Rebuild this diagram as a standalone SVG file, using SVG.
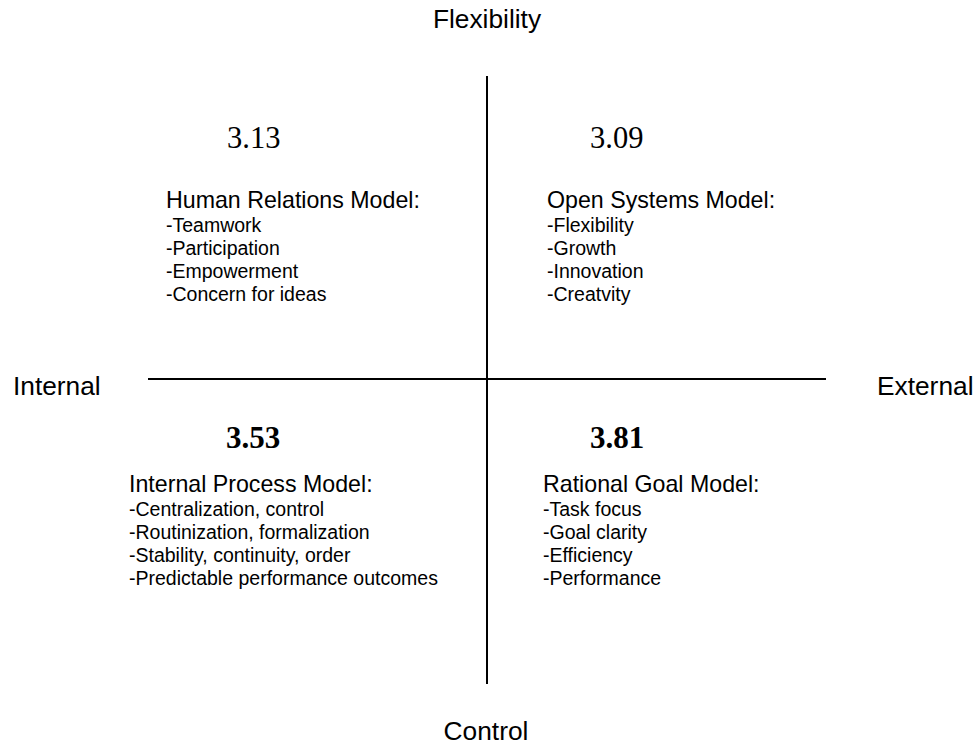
<svg xmlns="http://www.w3.org/2000/svg" width="977" height="746" viewBox="0 0 977 746">
<style>
.axis{font-family:"Liberation Sans",Arial,sans-serif;font-size:26.3px;fill:#000}
.num{font-family:"Liberation Serif","Times New Roman",serif;font-size:30.5px;fill:#000}
.numb{font-family:"Liberation Serif","Times New Roman",serif;font-size:31px;font-weight:bold;fill:#000}
.head{font-family:"Liberation Sans",Arial,sans-serif;font-size:23.2px;fill:#000}
.item{font-family:"Liberation Sans",Arial,sans-serif;font-size:19.5px;fill:#000}
.ax{stroke:#000;stroke-width:2;fill:none}
</style>
<rect width="977" height="746" fill="#fff"/>
<g id="connectors">
<line class="ax" x1="487" y1="76" x2="487" y2="684"/>
<line class="ax" x1="148" y1="379" x2="826" y2="379"/>
</g>
<g id="axis-labels">
<text class="axis" x="487" y="28" text-anchor="middle">Flexibility</text>
<text class="axis" x="486" y="740" text-anchor="middle">Control</text>
<text class="axis" x="13" y="395">Internal</text>
<text class="axis" x="877" y="395">External</text>
</g>
<g id="human-relations">
<text class="num" x="227" y="148">3.13</text>
<text class="head" x="166" y="208">Human Relations Model:</text>
<text class="item" x="166" y="231.5">-Teamwork</text>
<text class="item" x="166" y="254.5">-Participation</text>
<text class="item" x="166" y="277.5">-Empowerment</text>
<text class="item" x="166" y="300.5">-Concern for ideas</text>
</g>
<g id="open-systems">
<text class="num" x="590" y="148">3.09</text>
<text class="head" x="547" y="208">Open Systems Model:</text>
<text class="item" x="547" y="231.5">-Flexibility</text>
<text class="item" x="547" y="254.5">-Growth</text>
<text class="item" x="547" y="277.5">-Innovation</text>
<text class="item" x="547" y="300.5">-Creatvity</text>
</g>
<g id="internal-process">
<text class="numb" x="226" y="448">3.53</text>
<text class="head" x="129" y="492">Internal Process Model:</text>
<text class="item" x="129" y="515.5">-Centralization, control</text>
<text class="item" x="129" y="538.5">-Routinization, formalization</text>
<text class="item" x="129" y="561.5">-Stability, continuity, order</text>
<text class="item" x="129" y="584.5">-Predictable performance outcomes</text>
</g>
<g id="rational-goal">
<text class="numb" x="590" y="448">3.81</text>
<text class="head" x="543" y="492">Rational Goal Model:</text>
<text class="item" x="543" y="515.5">-Task focus</text>
<text class="item" x="543" y="538.5">-Goal clarity</text>
<text class="item" x="543" y="561.5">-Efficiency</text>
<text class="item" x="543" y="584.5">-Performance</text>
</g>
</svg>
